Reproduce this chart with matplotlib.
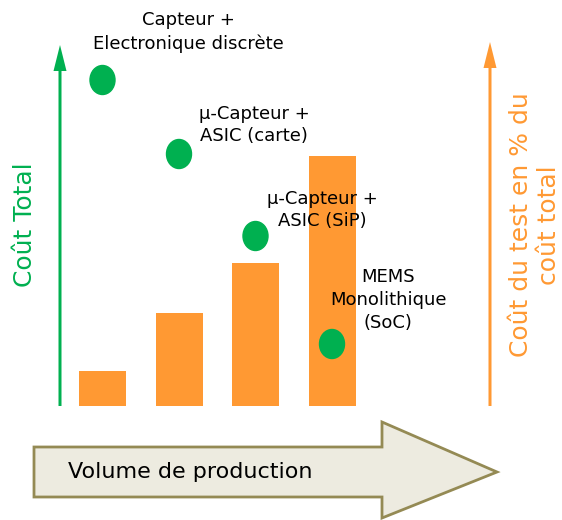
import matplotlib
matplotlib.use("Agg")
import matplotlib.pyplot as plt
from matplotlib.patches import Ellipse, Polygon, FancyArrow

# Data (arbitrary units)
categories = ["Capteur +\nElectronique discrète",
              "μ-Capteur +\nASIC (carte)",
              "μ-Capteur +\nASIC (SiP)",
              "MEMS\nMonolithique\n(SoC)"]
test_cost_pct = [35, 93, 143, 250]     # orange bars
total_cost = [326, 252, 170, 62]       # green dots
x_label = "Volume de production"
left_label = "Coût Total"
right_label = "Coût du test en % du\ncoût total"

GREEN = "#00B050"
ORANGE = "#FF9933"
FONT = "DejaVu Sans"

W, H = 562, 520
fig = plt.figure(figsize=(W / 100, H / 100), dpi=100)

# data axes: y unit = 1 px, x unit = bar spacing
ax = fig.add_axes([0, 114 / H, 1, 406 / H])
spacing = 76.5
x0 = 102.5
ax.set_xlim(-x0 / spacing, (W - x0) / spacing)
ax.set_ylim(0, 406)
ax.axis("off")
xs = list(range(len(categories)))
ax.bar(xs, test_cost_pct, width=47 / spacing, color=ORANGE, zorder=2)
for xi, v in zip(xs, total_cost):
    ax.add_patch(Ellipse((xi, v), width=25 / spacing, height=29,
                         color=GREEN, zorder=3))

# overlay axes in pixel coordinates for decorations
ov = fig.add_axes([0, 0, 1, 1])
ov.set_xlim(0, W)
ov.set_ylim(H, 0)
ov.axis("off")

# vertical arrows
ov.add_patch(FancyArrow(60, 406, 0, -361, width=3, head_width=13,
                        head_length=26, length_includes_head=True,
                        color=GREEN, lw=0))
ov.add_patch(FancyArrow(490, 406, 0, -364, width=3, head_width=13,
                        head_length=26, length_includes_head=True,
                        color=ORANGE, lw=0))

# label texts
label_pos = [(188, 32), (254, 125), (322, 210), (388, 300)]
for (lx, ly), lab in zip(label_pos, categories):
    ov.text(lx, ly, lab, ha="center", va="center", fontsize=13,
            family=FONT, linespacing=1.35, color="black")

ov.text(25, 225, left_label, rotation=90, ha="center", va="center",
        fontsize=18, color=GREEN, family=FONT)
ov.text(535, 225, right_label, rotation=90, ha="center", va="center",
        fontsize=18, color=ORANGE, family=FONT, linespacing=1.25)

# bottom big arrow
arrow_pts = [(34, 447), (382, 447), (382, 422), (497, 472),
             (382, 518), (382, 497), (34, 497)]
ov.add_patch(Polygon(arrow_pts, closed=True, facecolor="#EDEBE0",
                     edgecolor="#948A54", lw=2, zorder=1))
ov.text(68, 472, x_label, ha="left", va="center", fontsize=16,
        family=FONT, color="black", zorder=2)

fig.savefig("out.png", dpi=100)
